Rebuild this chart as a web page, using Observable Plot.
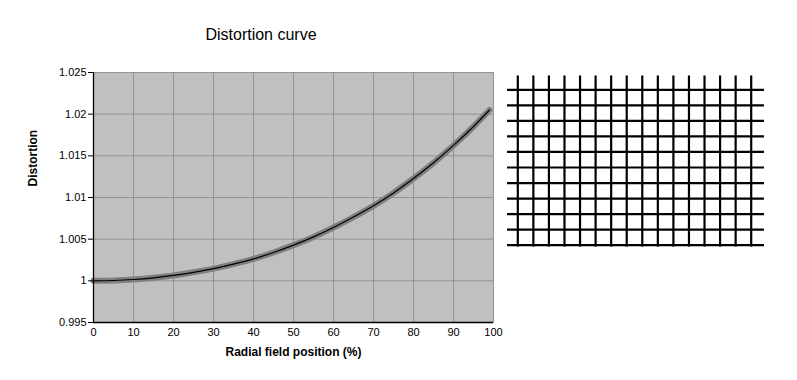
<!DOCTYPE html>
<html>
<head>
<meta charset="utf-8">
<script src="https://cdn.jsdelivr.net/npm/d3@7"></script>
<script src="https://cdn.jsdelivr.net/npm/@observablehq/plot@0.6"></script>
<style>
  html, body { margin: 0; padding: 0; background: #ffffff; }
  #wrap { position: relative; width: 797px; height: 380px; overflow: hidden; font-family: "Liberation Sans", Arial, sans-serif; }
  #title { position: absolute; left: 161px; top: 25px; width: 200px; text-align: center; font-size: 16px; line-height: 20px; color: #000; }
  #main { position: absolute; left: 0; top: 0; }
  #grid { position: absolute; left: 500px; top: 60px; }
</style>
</head>
<body>
<div id="wrap">
  <div id="title">Distortion curve</div>
  <div id="main"></div>
  <div id="grid"></div>
</div>
<script>
// Distortion curve data
const radialPos  = [0, 5, 10, 15, 20, 25, 30, 35, 40, 45, 50, 55, 60, 65, 70, 75, 80, 85, 90, 95, 99];
const distortion = [1.0000, 1.00004, 1.00016, 1.00036, 1.00065, 1.00102, 1.00146, 1.00200, 1.00263, 1.00340, 1.00428,
                    1.00527, 1.00640, 1.00765, 1.00900, 1.01055, 1.01228, 1.01416, 1.01625, 1.01852, 1.02050];
const xTicks = [0, 10, 20, 30, 40, 50, 60, 70, 80, 90, 100];
const yTicks = [0.995, 1, 1.005, 1.01, 1.015, 1.02, 1.025];
const xLabel = "Radial field position (%)";
const yLabel = "Distortion";

// Distorted grid image (line indices)
const gridCols = [0, 1, 2, 3, 4, 5, 6, 7, 8, 9, 10, 11, 12, 13, 14, 15];
const gridRows = [0, 1, 2, 3, 4, 5, 6, 7, 8, 9, 10];
const gridSpanX = [-0.66, 15.85];
const gridSpanY = [-0.89, 10.12];

const curve = radialPos.map((r, i) => ({r, d: distortion[i]}));
const gridColor = "#939393";

const main = Plot.plot({
  width: 520,
  height: 380,
  marginLeft: 93,
  marginRight: 27,
  marginTop: 72,
  marginBottom: 58,
  x: {domain: [0, 100]},
  y: {domain: [0.995, 1.025]},
  style: {fontFamily: "'Liberation Sans', Arial, sans-serif", fontSize: "11px", background: "transparent", color: "#000"},
  marks: [
    Plot.frame({fill: "#c0c0c0", stroke: gridColor}),
    Plot.ruleX(xTicks, {x: d => d, stroke: gridColor, strokeWidth: 1}),
    Plot.ruleY(yTicks, {y: d => d, stroke: gridColor, strokeWidth: 1}),
    Plot.line(curve, {x: "r", y: "d", stroke: "#7f7f7f", strokeWidth: 6, curve: "monotone-x"}),
    Plot.line(curve, {x: "r", y: "d", stroke: "#000", strokeWidth: 1.2, curve: "monotone-x"}),
    Plot.ruleX([0], {x: d => d, stroke: "#000", strokeWidth: 1.3}),
    Plot.ruleY([0.995], {y: d => d, stroke: "#000", strokeWidth: 1.3}),
    Plot.axisY(yTicks, {tickFormat: d => String(d), tickSize: 5, tickPadding: 2, label: null, stroke: "#000"}),
    Plot.axisX(xTicks, {tickFormat: d => String(d), tickSize: 0, tickPadding: 6, label: null}),
    Plot.text([yLabel], {text: d => d, frameAnchor: "left", dx: -60, dy: -11, rotate: -90, fontWeight: "bold", fontSize: 12}),
    Plot.text([xLabel], {text: d => d, frameAnchor: "bottom", dy: 33, fontWeight: "bold", fontSize: 12})
  ]
});
document.getElementById("main").appendChild(main);

const grid = Plot.plot({
  width: 280,
  height: 200,
  marginLeft: 17.3,
  marginRight: 29.3,
  marginTop: 29.3,
  marginBottom: 15.3,
  x: {domain: [0, 15], axis: null},
  y: {domain: [0, 10], reverse: true, axis: null},
  style: {background: "transparent"},
  marks: [
    Plot.ruleY(gridRows, {y: d => d, x1: () => gridSpanX[0], x2: () => gridSpanX[1], stroke: "#000", strokeWidth: 2.2}),
    Plot.ruleX(gridCols, {x: d => d, y1: () => gridSpanY[0], y2: () => gridSpanY[1], stroke: "#000", strokeWidth: 2.2})
  ]
});
document.getElementById("grid").appendChild(grid);
</script>
</body>
</html>
